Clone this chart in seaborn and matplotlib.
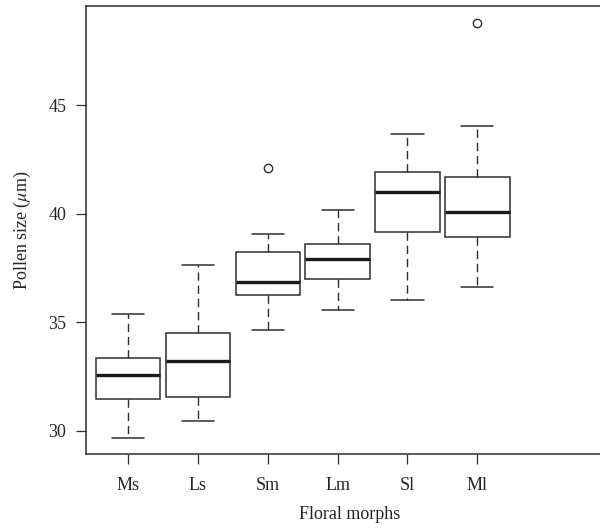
import matplotlib
matplotlib.use("Agg")
import matplotlib.pyplot as plt
import seaborn as sns
import pandas as pd

# Five-number summaries (pollen size, µm)
morphs = ["Ms", "Ls", "Sm", "Lm", "Sl", "Ml"]
lower_whisker = [29.68, 30.46, 34.66, 35.55, 36.04, 36.64]
q1 = [31.45, 31.55, 36.27, 37.00, 39.15, 38.92]
median = [32.57, 33.22, 36.87, 37.93, 41.02, 40.07]
q3 = [33.34, 34.51, 38.26, 38.63, 41.95, 41.72]
upper_whisker = [35.40, 37.64, 39.07, 40.18, 43.70, 44.07]
outlier = [None, None, 42.13, None, None, 48.82]

rows = []
for i, m in enumerate(morphs):
    lo, a, md, b, hi, out = (lower_whisker[i], q1[i], median[i], q3[i],
                             upper_whisker[i], outlier[i])
    if out is None:
        vals = [lo, lo, a, md, md, md, b, hi, hi]
    else:
        vals = [lo, a, a, md, md, b, b, hi, out]
    rows += [(m, v) for v in vals]
df = pd.DataFrame(rows, columns=["morph", "size"])

sns.set_theme(style="white")
plt.rcParams["font.family"] = ["Liberation Serif", "DejaVu Serif"]
plt.rcParams["mathtext.fontset"] = "stix"

fig = plt.figure(figsize=(6.0, 5.29), dpi=100)
ax = fig.add_axes([0.1428, 0.1412, 0.88, 0.8480])

lc = "#2e2e2e"
sns.boxplot(data=df, x="morph", y="size", order=morphs, ax=ax,
            color="white", linecolor=lc, linewidth=1.1, width=0.92,
            whis=1.5, fliersize=6,
            flierprops=dict(marker="o", markerfacecolor="none",
                            markeredgecolor=lc, markeredgewidth=1.0),
            medianprops=dict(color="#1a1a1a", linewidth=2.4),
            whiskerprops=dict(linestyle=(0, (6, 3.5)), color=lc, linewidth=1.0),
            capprops=dict(color=lc, linewidth=1.1),
            boxprops=dict(edgecolor=lc, linewidth=1.1))

ax.set_xlim(-0.604, 6.95)
ax.set_ylim(28.91, 49.60)
ax.set_yticks([30, 35, 40, 45])
ax.set_yticklabels(["30", "35", "40", "45"])
ax.set_xlabel("Floral morphs", fontsize=13, labelpad=9)
ax.set_ylabel(r"Pollen size ($\mu$m)", fontsize=13, labelpad=11)
ax.tick_params(axis="y", direction="out", length=7, width=0.9,
               color=lc, labelsize=13, pad=7, left=True)
ax.tick_params(axis="x", direction="out", length=7, width=0.9,
               color=lc, labelsize=13, pad=9, bottom=True)
for s in ax.spines.values():
    s.set_visible(True)
    s.set_color(lc)
    s.set_linewidth(1.1)

fig.savefig("out.png", dpi=100)
